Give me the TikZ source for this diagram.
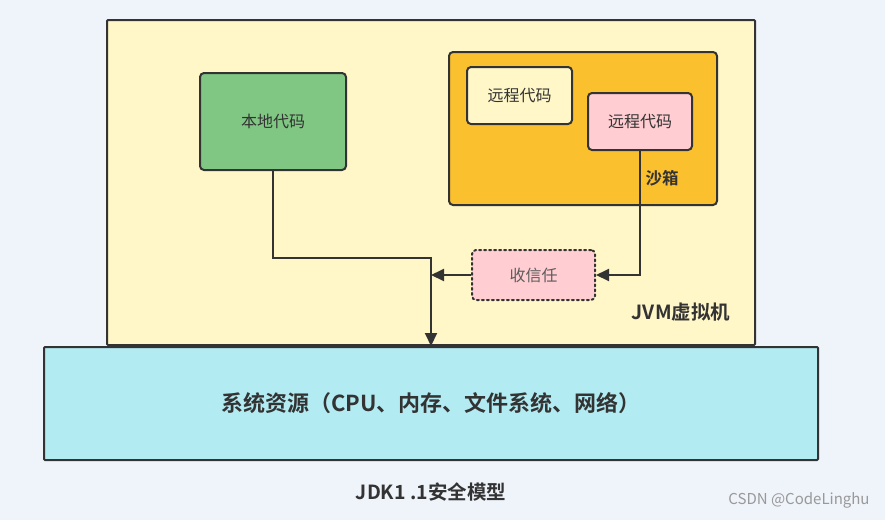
\documentclass[tikz,border=0pt]{standalone}
\usepackage{fontspec}
\setmainfont{Noto Sans CJK SC}[BoldFont={Noto Sans CJK SC Bold}]
\usetikzlibrary{arrows.meta, positioning, calc}
\definecolor{pagebg}{RGB}{239, 243, 250}
\definecolor{jvmyellow}{RGB}{255, 247, 200}
\definecolor{sandorange}{RGB}{251, 192, 45}
\definecolor{codegreen}{RGB}{129, 199, 132}
\definecolor{codepink}{RGB}{255, 205, 210}
\definecolor{rescyan}{RGB}{178, 235, 242}
\definecolor{edgegray}{RGB}{51, 51, 51}

\begin{document}
\begin{tikzpicture}[x=1pt, y=-1pt,
  box/.style={draw=edgegray, line width=2pt, rounded corners=4pt, inner sep=0pt, align=center, text=edgegray},
  cbox/.style={box, font=\fontsize{16}{18}\selectfont},
  flow/.style={draw=edgegray, line width=2pt, -{Triangle[length=13pt, width=12pt]}}
]
  \useasboundingbox[fill=pagebg] (0,0) rectangle (885,520);
  \node[box, rounded corners=1pt, fill=jvmyellow, minimum width=648pt, minimum height=325pt] (jvm) at (431,182.5) {};
  \node[box, rounded corners=1pt, fill=rescyan, minimum width=774pt, minimum height=113pt, font=\fontsize{22}{26}\selectfont\bfseries] (res) at (431,403.5) {系统资源（CPU、内存、文件系统、网络）};
  \node[cbox, fill=codegreen, minimum width=146pt, minimum height=97pt] (local) at (273,121.5) {本地代码};
  \node[box, fill=sandorange, minimum width=268pt, minimum height=153pt] (sandbox) at (583,128.5) {};
  \node[cbox, fill=jvmyellow, minimum width=105pt, minimum height=57pt] (remoteA) at (519.5,95.5) {远程代码};
  \node[cbox, fill=codepink, minimum width=104pt, minimum height=57pt] (remoteB) at (640,121.5) {远程代码};
  \node[cbox, fill=codepink, dash pattern=on 2pt off 3pt, line cap=round, text=edgegray!80, minimum width=123pt, minimum height=50pt] (trust) at (533.5,275) {收信任};
  \node[font=\fontsize{16.5}{18}\selectfont\bfseries, text=edgegray] (sandlabel) at (662,178) {沙箱};
  \node[font=\fontsize{19.5}{22}\selectfont\bfseries, text=edgegray] (jvmlabel) at (681,312) {JVM虚拟机};
  \node[font=\fontsize{19.5}{22}\selectfont\bfseries, text=edgegray] (caption) at (431,492) {JDK1 .1安全模型};
  \node[font=\fontsize{15}{17}\selectfont, text=gray!80] (mark) at (799,500) {CSDN @CodeLinghu};

  % connectors
  \coordinate (join) at (431,258);
  \draw[flow] (local.south) |- (join) -- (join |- res.north);
  \draw[flow] (trust.west) -- (trust.west -| join);
  \draw[flow] (remoteB.south) |- (trust.east);
\end{tikzpicture}
\end{document}
